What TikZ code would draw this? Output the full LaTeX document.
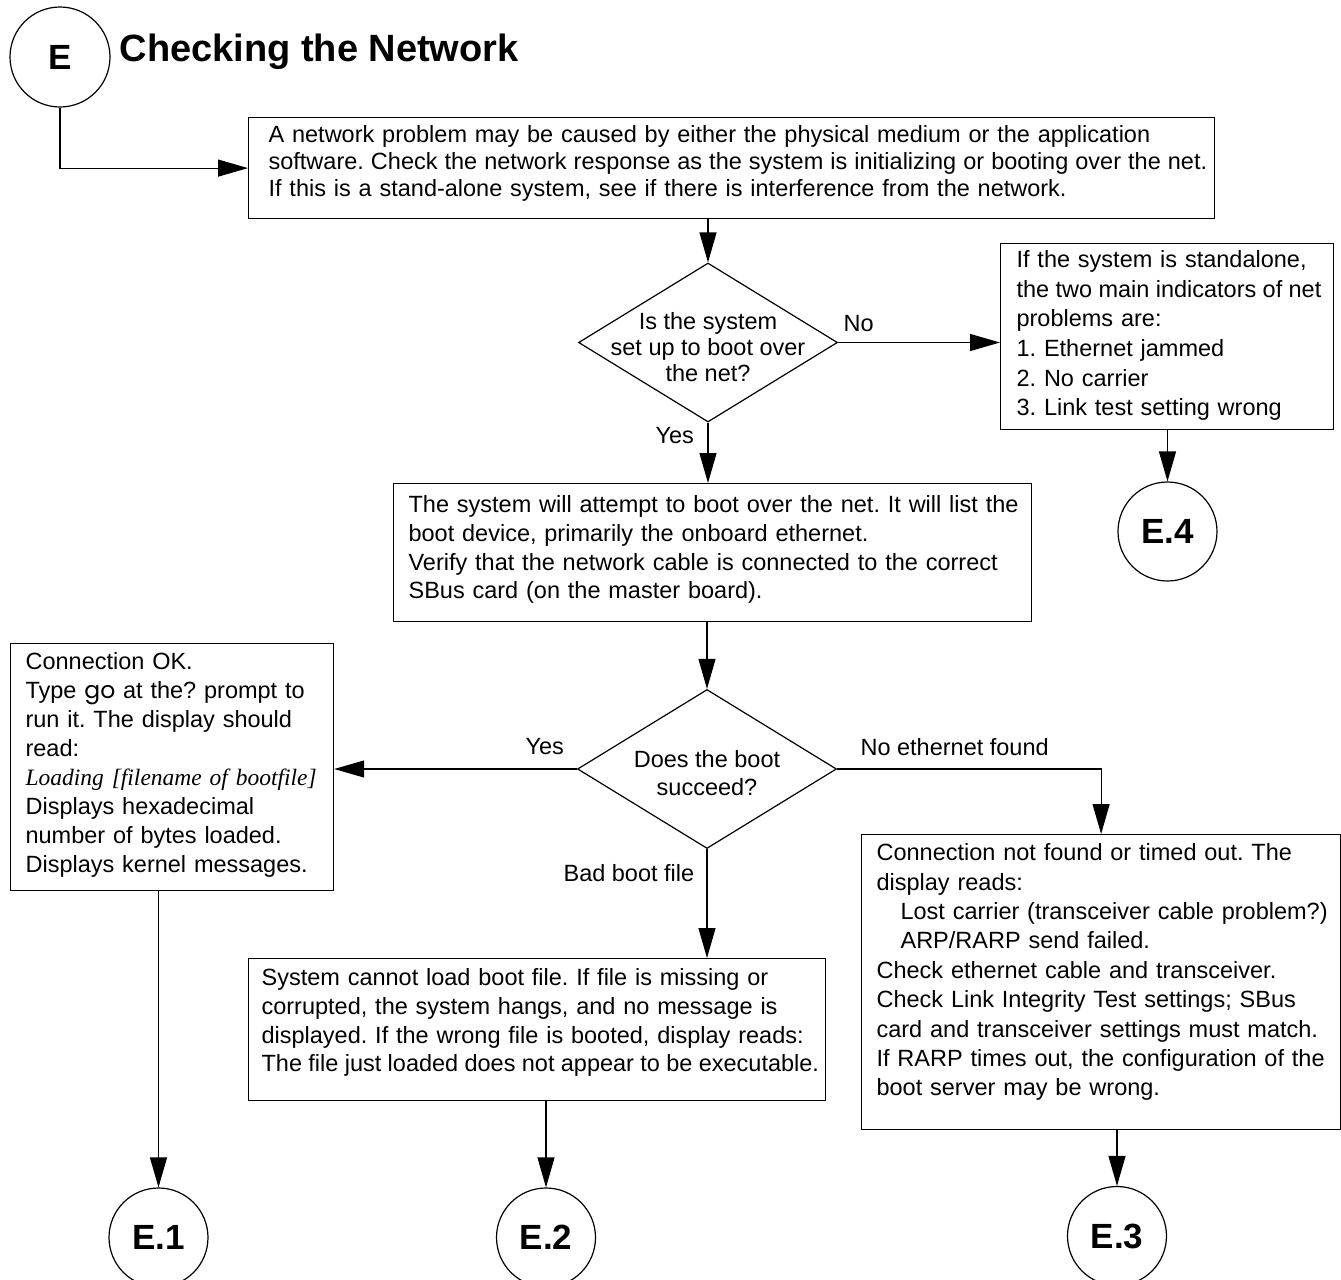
\documentclass[tikz,border=0pt]{standalone}
\usepackage{fontspec}
\setmainfont{Liberation Sans}
\newfontfamily\serifit{Liberation Serif}
\newfontfamily\cmdfont{Poppins}
\usetikzlibrary{arrows.meta,shapes.geometric}
\frenchspacing
\newcommand{\lines}[1]{\begin{tabular}[t]{@{}l@{}}#1\end{tabular}}
\newcommand{\stack}[1]{\begin{tabular}[b]{@{}c@{}}#1\end{tabular}}
\newcommand{\tight}[2]{{\spaceskip=#1em #2}}
\begin{document}
\begin{tikzpicture}[x=0.5pt,y=-0.5pt,>={Triangle[length=15pt,width=8.5pt]},line width=0.6pt,
	font=\fontsize{11.75}{14.5}\selectfont,
	box/.style={draw,anchor=north west,inner ysep=0pt},
	ask/.style={draw,diamond,aspect=1.63,inner sep=-8pt,minimum width=129.5pt,minimum height=79.5pt,text depth=0pt},
	hub/.style={draw,circle,inner sep=0pt,minimum size=49.5pt,font=\fontsize{17.5}{20}\selectfont\bfseries},
	tag/.style={anchor=base west,inner sep=0pt}]
\useasboundingbox (0,0) rectangle (1341,1280);
\node[hub,minimum size=50pt] (E) at (60,57) {E};
\node[tag,font=\fontsize{19}{22}\selectfont\bfseries] (title) at (119,61) {Checking the Network};
\node[box,inner xsep=10pt,text width=463pt,text height=12.5pt,text depth=38pt,font=\fontsize{11.75}{13.5}\selectfont] (intro) at (248,117)
	{\lines{A network problem may be caused by either the physical medium or the application\\
	\tight{0.3}{software. Check the network response as the system is initializing or booting over the net.}\\
	If this is a stand-alone system, see if there is interference from the network.}};
\node[ask,text height=38.5pt,font=\fontsize{11.75}{13}\selectfont] (netq) at (708,342.5) {\stack{Is the system\\set up to boot over\\the net?}};
\node[box,inner xsep=8pt,text width=150.5pt,text height=12pt,text depth=81pt,font=\fontsize{11.75}{14.8}\selectfont] (alone) at (1000,243)
	{\lines{If the system is standalone,\\\tight{0.27}{the two main indicators of net}\\problems are:\\1. Ethernet jammed\\2. No carrier\\3. Link test setting wrong}};
\node[hub] (e4) at (1167.5,531.5) {E.4};
\node[box,inner xsep=7.5pt,text width=304pt,text height=14.5pt,text depth=54.5pt,font=\fontsize{11.75}{14.35}\selectfont] (boot) at (393,483)
	{\lines{The system will attempt to boot over the net. It will list the\\
	boot device, primarily the onboard ethernet.\\
	Verify that the network cable is connected to the correct\\
	SBus card (on the master board).}};
\node[ask,text height=26pt,font=\fontsize{11.75}{14}\selectfont] (bootq) at (707,769) {\stack{Does the boot\\succeed?}};
\node[box,inner xsep=7.5pt,text width=146.5pt,text height=13pt,text depth=110.5pt] (okbox) at (10,643)
	{\lines{Connection OK.\\
	Type {\cmdfont go} at the? prompt to\\
	run it. The display should\\
	read:\\
	{\serifit\itshape Loading [filename of bootfile]}\\
	Displays hexadecimal\\
	number of bytes loaded.\\
	Displays kernel messages.}};
\node[box,inner xsep=7.5pt,text width=224.5pt,text height=13pt,text depth=134.5pt,font=\fontsize{11.75}{14.7}\selectfont] (noeth) at (861,834)
	{\lines{Connection not found or timed out. The\\
	display reads:\\
	\hspace*{12pt}Lost carrier (transceiver cable problem?)\\
	\hspace*{12pt}ARP/RARP send failed.\\
	Check ethernet cable and transceiver.\\
	Check Link Integrity Test settings; SBus\\
	card and transceiver settings must match.\\
	If RARP times out, the configuration of the\\
	boot server may be wrong.}};
\node[box,inner xsep=6.5pt,text width=275.5pt,text height=13.5pt,text depth=57.5pt,font=\fontsize{11.75}{14.35}\selectfont] (badfile) at (248,958)
	{\lines{System cannot load boot file. If file is missing or\\
	corrupted, the system hangs, and no message is\\
	displayed. If the wrong file is booted, display reads:\\
	\tight{0.27}{The file just loaded does not appear to be executable.}}};
\node[hub] (e1) at (158.5,1237.5) {E.1};
\node[hub] (e2) at (546,1237.5) {E.2};
\node[hub] (e3) at (1117,1236) {E.3};
% branch labels
\node[tag] (nolbl) at (843,331) {No};
\node[tag] (yeslbl) at (655,443) {Yes};
\node[tag] (oklbl) at (525,754) {Yes};
\node[tag] (ethlbl) at (860,755) {No ethernet found};
\node[tag] (badlbl) at (563,881) {Bad boot file};
% connectors
\draw[->] (E.south) |- (intro.west);
\draw[->] (intro.south -| netq.north) -- (netq.north);
\draw[->] (netq.east) -- (netq.east -| alone.west);
\draw[->] (alone.south -| e4.north) -- (e4.north);
\draw[->] (netq.south) -- (netq.south |- boot.north);
\draw[->] (boot.south -| bootq.north) -- (bootq.north);
\draw[->] (bootq.west) -- (bootq.west -| okbox.east);
\draw[->] (bootq.east) -| (noeth.north);
\draw[->] (bootq.south) -- (bootq.south |- badfile.north);
\draw[->] (okbox.south -| e1.north) -- (e1.north);
\draw[->] (badfile.south -| e2.north) -- (e2.north);
\draw[->] (noeth.south -| e3.north) -- (e3.north);
\end{tikzpicture}
\end{document}
